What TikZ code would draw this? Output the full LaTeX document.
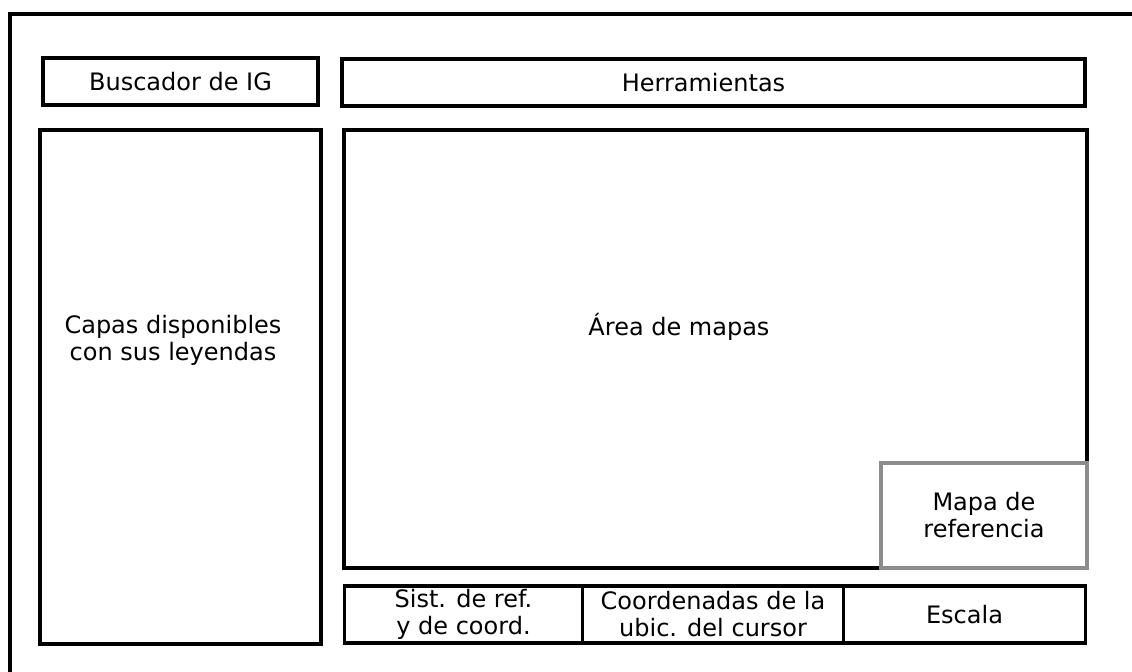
\documentclass[tikz,border=0pt]{standalone}
\usepackage{fontspec}
\setmainfont{DejaVu Sans}
\usepackage{tikz}
\usetikzlibrary{positioning}

\tikzset{
  panel/.style={draw=black, line width=1.75pt, inner sep=0pt, outer sep=0pt, align=center},
  refpanel/.style={panel, draw=black!45, fill=white},
  frame/.style={draw=black, line width=2pt},
  label/.style={align=center, inner sep=0pt}
}

\begin{document}
\begin{tikzpicture}[x=0.5pt, y=-0.5pt, font=\fontsize{12}{13.5}\selectfont]
  \useasboundingbox (0,0) rectangle (1132,671);
  % outer window
  \draw[frame] (10,690) |- (1150,14);
  % top row
  \node[panel, minimum width=137.5pt, minimum height=23.5pt] (buscador) at (180.5,81.5) {Buscador de IG};
  \node[panel, minimum width=371.5pt, minimum height=23.5pt] (herramientas) at (713.5,82.5) {};
  \node[label] (herrtxt) at (703.5,83) {Herramientas};
  % layers and map
  \node[panel, minimum width=140.5pt, minimum height=257pt] (capas) at (180.5,387) {};
  \node[label] (capastxt) at (173,340) {Capas disponibles\\con sus leyendas};
  \node[panel, minimum width=371.5pt, minimum height=219pt] (area) at (715.5,349) {};
  \node[label] (areatxt) at (679,327) {Área de mapas};
  \node[refpanel, minimum width=103pt, minimum height=52.5pt] (mapaRef) at (984,515.5) {Mapa de\\referencia};
  % status bar
  \node[panel, minimum width=119pt, minimum height=28.5pt] (sistRef) at (463.5,614.5) {Sist. de ref.\\y de coord.};
  \node[panel, minimum width=130.5pt, minimum height=28.5pt, right=0pt of sistRef] (coordCursor) {Coordenadas de la\\ubic. del cursor};
  \node[panel, minimum width=121pt, minimum height=28.5pt, right=0pt of coordCursor] (escala) {Escala};
\end{tikzpicture}
\end{document}
